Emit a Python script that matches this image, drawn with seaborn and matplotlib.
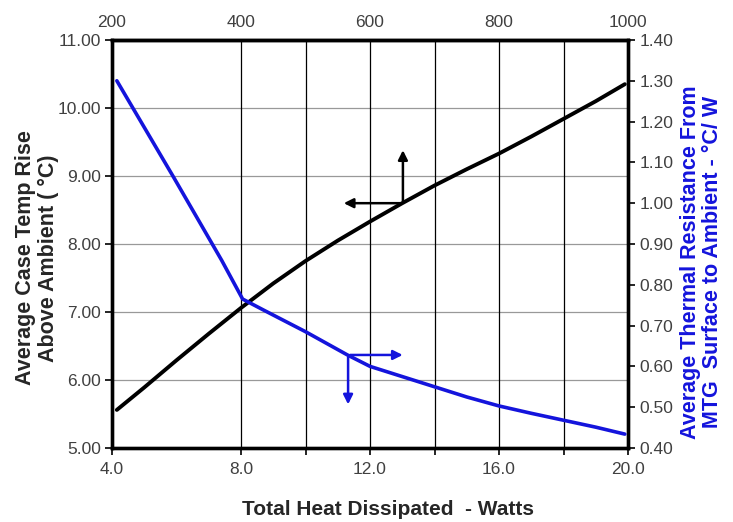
import numpy as np
import pandas as pd
import matplotlib
matplotlib.use("Agg")
import matplotlib.pyplot as plt
import seaborn as sns

# watts on the bottom axis
watts_temp = [4.15, 5.0, 6.0, 7.0, 8.0, 9.0, 10.0, 11.0, 12.0, 13.0, 14.0, 15.0, 16.0, 17.0, 18.0, 19.0, 19.9]
temp_rise = [5.56, 5.89, 6.29, 6.68, 7.06, 7.42, 7.75, 8.05, 8.33, 8.60, 8.86, 9.10, 9.33, 9.58, 9.84, 10.10, 10.35]

watts_res = [4.15, 5.9, 7.4, 8.05, 8.7, 10.0, 11.3, 12.0, 13.0, 14.0, 15.0, 16.0, 17.0, 18.0, 19.0, 19.9]
resistance = [1.30, 1.065, 0.86, 0.765, 0.738, 0.685, 0.628, 0.60, 0.575, 0.55, 0.525, 0.503, 0.485, 0.468, 0.451, 0.434]

bottom_ticks = [4.0, 8.0, 12.0, 16.0, 20.0]
minor_ticks = [10.0, 14.0, 18.0]
left_ticks = [5, 6, 7, 8, 9, 10, 11]
right_ticks = [0.4, 0.5, 0.6, 0.7, 0.8, 0.9, 1.0, 1.1, 1.2, 1.3, 1.4]
top_ticks = [200, 400, 600, 800, 1000]

df_temp = pd.DataFrame({'watts': watts_temp, 'rise': temp_rise})
df_res = pd.DataFrame({'watts': watts_res, 'res': resistance})

sns.set_style('white')
plt.rcParams['font.family'] = ['Liberation Sans', 'DejaVu Sans']

BLUE = '#1414dc'
fig = plt.figure(figsize=(7.33, 5.22), dpi=100)
ax = fig.add_axes([0.1528, 0.1418, 0.704, 0.7816])
ax2 = ax.twinx()

sns.lineplot(data=df_temp, x='watts', y='rise', ax=ax, color='black', linewidth=2.8, zorder=5)
sns.lineplot(data=df_res, x='watts', y='res', ax=ax2, color=BLUE, linewidth=2.6, zorder=5)

ax.set_xlim(4, 20)
ax.set_ylim(5, 11)
ax2.set_ylim(0.4, 1.4)

ax.set_xticks(bottom_ticks)
ax.set_xticks(minor_ticks, minor=True)
ax.set_xticklabels(['%.1f' % t for t in bottom_ticks])
ax.set_yticks(left_ticks)
ax.set_yticklabels(['%.2f' % t for t in left_ticks])
ax2.set_yticks(right_ticks)
ax2.set_yticklabels(['%.2f' % t for t in right_ticks])

# grid: horizontal grey, vertical black
for y in left_ticks[1:-1]:
    ax.axhline(y, color='#999999', lw=0.9, zorder=1)
for x in [8, 10, 12, 14, 16, 18]:
    ax.axvline(x, color='black', lw=0.9, zorder=1)

tick_col = '#404040'
ax.tick_params(axis='both', which='both', direction='out', length=5, width=1.2,
               labelsize=12.5, labelcolor=tick_col, color='black', left=True, bottom=True)
ax.tick_params(axis='x', pad=5)
ax.tick_params(axis='y', pad=3)
ax2.tick_params(axis='y', direction='out', length=5, width=1.2, labelsize=12.5,
                labelcolor=tick_col, color='black', right=True, pad=3)

for a in (ax, ax2):
    for s in a.spines.values():
        s.set_color('black')
        s.set_linewidth(2.4)

top = ax.secondary_xaxis('top', functions=(lambda x: x * 50, lambda x: x / 50))
top.set_xticks(top_ticks)
top.set_xticklabels([str(t) for t in top_ticks])
top.tick_params(length=0, labelsize=12.5, labelcolor=tick_col, pad=7)
top.spines['top'].set_linewidth(2.4)

ax.set_xlabel('Total Heat Dissipated  - Watts', fontsize=15, fontweight='bold')
ax.xaxis.set_label_coords(0.535, -0.128)
ax.set_ylabel('Average Case Temp Rise\nAbove Ambient ( °C)', fontsize=15.5, fontweight='bold',
              linespacing=1.1)
ax.yaxis.set_label_coords(-0.103, 0.466)
ax2.set_ylabel('Average Thermal Resistance From\nMTG  Surface to Ambient - °C/ W', fontsize=15.5,
               fontweight='bold', color=BLUE, rotation=90, linespacing=1.1)
ax2.yaxis.set_label_coords(1.1, 0.456)

# arrows for black curve (points to left axis)
ax.annotate('', xy=(11.1, 8.60), xytext=(13.05, 8.60),
            arrowprops=dict(arrowstyle='-|>', color='black', lw=1.8, mutation_scale=14))
ax.annotate('', xy=(13.02, 9.42), xytext=(13.02, 8.58),
            arrowprops=dict(arrowstyle='-|>', color='black', lw=1.8, mutation_scale=14))

# arrows for blue curve (points to right axis)
ax2.annotate('', xy=(13.1, 0.628), xytext=(11.3, 0.628),
             arrowprops=dict(arrowstyle='-|>', color=BLUE, lw=1.8, mutation_scale=14))
ax2.annotate('', xy=(11.32, 0.50), xytext=(11.32, 0.63),
             arrowprops=dict(arrowstyle='-|>', color=BLUE, lw=1.8, mutation_scale=14))

fig.savefig('out.png', dpi=100)
